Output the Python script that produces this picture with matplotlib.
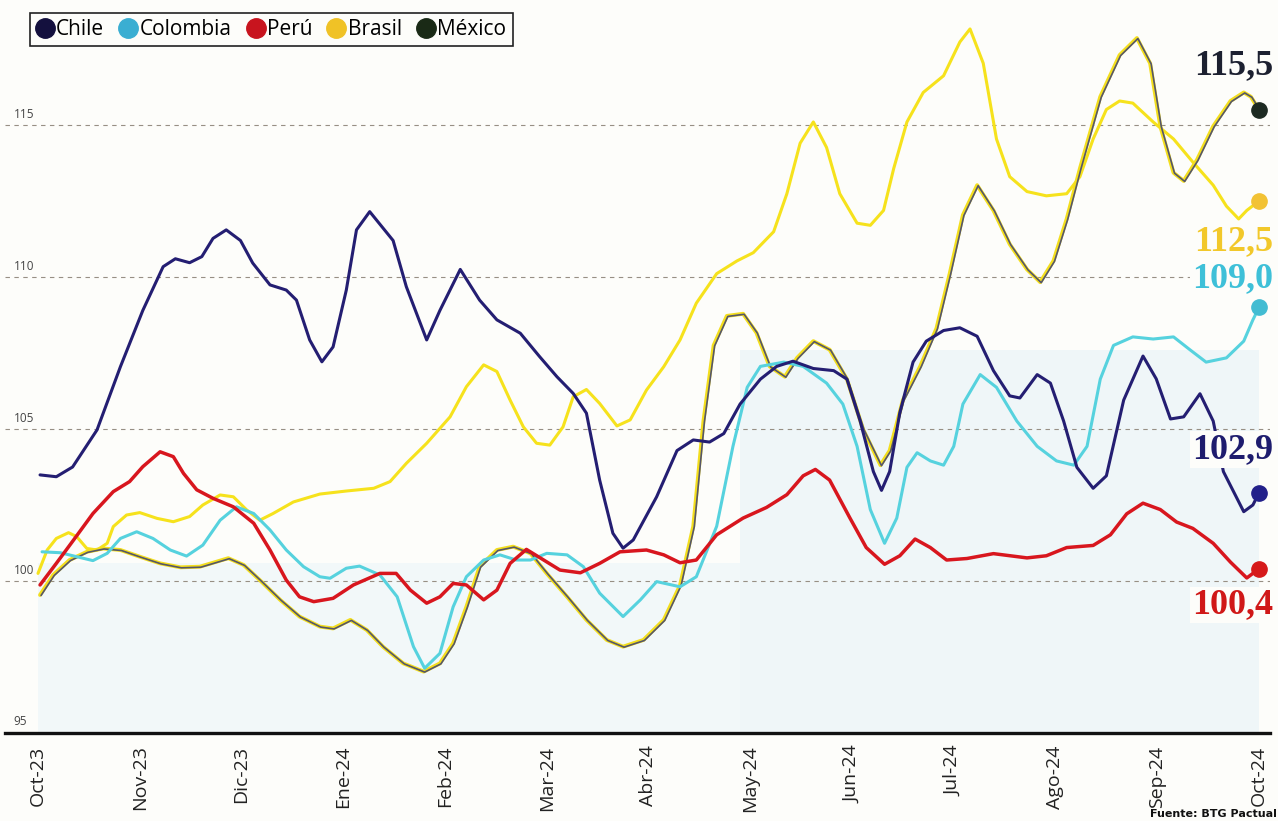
import matplotlib
matplotlib.use("Agg")
import matplotlib.pyplot as plt
import matplotlib.transforms as mtransforms
from matplotlib.lines import Line2D
from matplotlib.patches import Rectangle

# months since Oct-23 (x) and index value (y)
meses = ["Oct-23", "Nov-23", "Dic-23", "Ene-24", "Feb-24", "Mar-24", "Abr-24",
         "May-24", "Jun-24", "Jul-24", "Ago-24", "Sep-24", "Oct-24"]

chile_x = [0.02, 0.18, 0.34, 0.58, 0.81, 1.03, 1.23, 1.35, 1.49, 1.61, 1.72, 1.85,
           1.99, 2.11, 2.28, 2.44, 2.54, 2.67, 2.79, 2.90, 3.03, 3.13, 3.26, 3.49,
           3.62, 3.82, 3.95, 4.15, 4.34, 4.51, 4.74, 4.93, 5.10, 5.26, 5.39, 5.52,
           5.65, 5.75, 5.85, 6.08, 6.28, 6.44, 6.60, 6.74, 6.90, 7.10, 7.26, 7.42,
           7.62, 7.82, 7.95, 8.08, 8.21, 8.29, 8.37, 8.47, 8.60, 8.73, 8.90, 9.06,
           9.23, 9.39, 9.55, 9.65, 9.82, 9.95, 10.08, 10.21, 10.37, 10.50, 10.67,
           10.86, 10.99, 11.13, 11.26, 11.42, 11.55, 11.65, 11.85, 11.94, 12.0]
chile_y = [103.49, 103.43, 103.75, 104.97, 107.05, 108.9, 110.34, 110.6, 110.47,
           110.67, 111.27, 111.55, 111.2, 110.46, 109.74, 109.57, 109.24, 107.93,
           107.21, 107.7, 109.57, 111.55, 112.15, 111.2, 109.68, 107.93, 108.9,
           110.25, 109.24, 108.59, 108.15, 107.38, 106.72, 106.17, 105.52, 103.32,
           101.57, 101.08, 101.35, 102.77, 104.29, 104.64, 104.57, 104.85, 105.82,
           106.64, 107.06, 107.23, 106.99, 106.92, 106.64, 105.26, 103.6, 102.98,
           103.6, 105.54, 107.2, 107.89, 108.24, 108.33, 108.05, 106.92, 106.09,
           106.02, 106.79, 106.51, 105.26, 103.74, 103.05, 103.46, 105.95, 107.4,
           106.65, 105.33, 105.4, 106.16, 105.26, 103.6, 102.28, 102.5, 102.9]

colombia_x = [0.04, 0.22, 0.38, 0.54, 0.68, 0.81, 0.97, 1.13, 1.30, 1.46, 1.62,
              1.79, 1.95, 2.12, 2.28, 2.44, 2.61, 2.77, 2.87, 3.03, 3.16, 3.36,
              3.53, 3.69, 3.80, 3.95, 4.08, 4.21, 4.38, 4.54, 4.70, 4.84, 5.00,
              5.20, 5.36, 5.52, 5.75, 5.92, 6.08, 6.31, 6.47, 6.67, 6.83, 6.97,
              7.10, 7.33, 7.52, 7.75, 7.91, 8.05, 8.18, 8.32, 8.44, 8.54, 8.64,
              8.77, 8.90, 9.00, 9.09, 9.26, 9.42, 9.62, 9.82, 10.01, 10.18, 10.31,
              10.44, 10.57, 10.76, 10.96, 11.16, 11.32, 11.48, 11.68, 11.85, 11.94,
              12.0]
colombia_y = [100.96, 100.93, 100.8, 100.67, 100.91, 101.4, 101.62, 101.4, 101.02,
              100.82, 101.18, 102.0, 102.44, 102.22, 101.68, 101.02, 100.47, 100.14,
              100.09, 100.42, 100.49, 100.2, 99.48, 97.84, 97.13, 97.62, 99.15,
              100.14, 100.69, 100.86, 100.69, 100.69, 100.91, 100.86, 100.47, 99.6,
              98.83, 99.38, 99.98, 99.81, 100.14, 101.8, 104.43, 106.37, 107.06,
              107.2, 107.06, 106.51, 105.82, 104.43, 102.35, 101.24, 102.07, 103.74,
              104.22, 103.95, 103.81, 104.43, 105.82, 106.79, 106.37, 105.26, 104.43,
              103.95, 103.81, 104.43, 106.64, 107.75, 108.03, 107.96, 108.03, 107.61,
              107.2, 107.34, 107.89, 108.59, 109.0]

peru_x = [0.02, 0.18, 0.35, 0.54, 0.74, 0.90, 1.03, 1.20, 1.33, 1.43, 1.56, 1.72,
          1.92, 2.12, 2.28, 2.44, 2.57, 2.71, 2.90, 3.10, 3.36, 3.52, 3.66, 3.82,
          3.95, 4.08, 4.21, 4.38, 4.51, 4.64, 4.80, 4.97, 5.13, 5.33, 5.52, 5.72,
          5.98, 6.15, 6.31, 6.47, 6.67, 6.93, 7.16, 7.36, 7.52, 7.64, 7.78, 7.98,
          8.14, 8.32, 8.47, 8.62, 8.77, 8.93, 9.13, 9.39, 9.72, 9.91, 10.11, 10.37,
          10.54, 10.70, 10.86, 11.03, 11.19, 11.35, 11.55, 11.72, 11.88, 12.0]
peru_y = [99.87, 100.58, 101.35, 102.22, 102.94, 103.27, 103.76, 104.25, 104.09,
          103.54, 103.0, 102.72, 102.44, 101.9, 101.02, 100.03, 99.48, 99.32, 99.43,
          99.87, 100.25, 100.25, 99.7, 99.27, 99.48, 99.92, 99.87, 99.38, 99.7,
          100.58, 101.04, 100.69, 100.36, 100.27, 100.58, 100.96, 101.02, 100.86,
          100.6, 100.69, 101.52, 102.07, 102.42, 102.84, 103.46, 103.67, 103.32,
          102.07, 101.1, 100.55, 100.83, 101.38, 101.1, 100.69, 100.74, 100.9,
          100.76, 100.83, 101.1, 101.17, 101.52, 102.21, 102.56, 102.35, 101.94,
          101.73, 101.24, 100.62, 100.1, 100.4]

brasil_x = [0.0, 0.09, 0.18, 0.30, 0.38, 0.48, 0.58, 0.68, 0.74, 0.87, 1.00, 1.17,
            1.33, 1.49, 1.62, 1.79, 1.92, 2.05, 2.18, 2.31, 2.51, 2.77, 3.03, 3.30,
            3.46, 3.62, 3.82, 4.05, 4.21, 4.38, 4.51, 4.64, 4.77, 4.90, 5.03, 5.16,
            5.26, 5.39, 5.52, 5.69, 5.82, 5.98, 6.15, 6.31, 6.47, 6.67, 6.87, 7.03,
            7.23, 7.36, 7.49, 7.62, 7.75, 7.88, 8.05, 8.18, 8.31, 8.41, 8.54, 8.70,
            8.90, 9.06, 9.16, 9.29, 9.42, 9.55, 9.72, 9.91, 10.11, 10.24, 10.37,
            10.50, 10.63, 10.76, 10.96, 11.16, 11.35, 11.55, 11.68, 11.80, 11.88,
            12.0]
brasil_y = [100.25, 101.02, 101.4, 101.59, 101.46, 101.07, 101.02, 101.24, 101.79,
            102.17, 102.25, 102.06, 101.95, 102.12, 102.5, 102.83, 102.77, 102.34,
            102.0, 102.22, 102.6, 102.86, 102.96, 103.05, 103.27, 103.87, 104.53,
            105.4, 106.39, 107.11, 106.89, 105.95, 105.07, 104.53, 104.47, 105.07,
            106.06, 106.3, 105.84, 105.1, 105.3, 106.28, 107.05, 107.93, 109.14,
            110.11, 110.53, 110.8, 111.49, 112.74, 114.4, 115.1, 114.26, 112.74,
            111.77, 111.7, 112.19, 113.57, 115.1, 116.07, 116.62, 117.73, 118.16,
            117.03, 114.54, 113.3, 112.81, 112.67, 112.74, 113.3, 114.54, 115.51,
            115.79, 115.72, 115.1, 114.54, 113.78, 113.02, 112.33, 111.91, 112.19,
            112.5]

mexico_x = [0.02, 0.15, 0.31, 0.48, 0.64, 0.81, 1.00, 1.20, 1.40, 1.59, 1.76, 1.87,
            2.02, 2.18, 2.38, 2.57, 2.77, 2.90, 3.07, 3.23, 3.39, 3.59, 3.79, 3.95,
            4.08, 4.21, 4.34, 4.51, 4.67, 4.84, 5.00, 5.20, 5.39, 5.59, 5.75, 5.95,
            6.15, 6.31, 6.44, 6.54, 6.64, 6.77, 6.93, 7.06, 7.19, 7.34, 7.46, 7.62,
            7.78, 7.95, 8.11, 8.28, 8.37, 8.50, 8.67, 8.83, 8.96, 9.09, 9.23, 9.39,
            9.55, 9.72, 9.85, 9.98, 10.11, 10.24, 10.44, 10.63, 10.80, 10.93, 11.03,
            11.16, 11.26, 11.39, 11.55, 11.72, 11.85, 11.92, 12.0]
mexico_y = [99.54, 100.2, 100.69, 100.96, 101.07, 101.02, 100.8, 100.58, 100.45,
            100.47, 100.64, 100.75, 100.53, 100.03, 99.38, 98.83, 98.5, 98.44, 98.72,
            98.39, 97.84, 97.29, 97.02, 97.29, 97.95, 99.15, 100.47, 101.02, 101.13,
            100.91, 100.25, 99.48, 98.72, 98.06, 97.84, 98.06, 98.72, 99.86, 101.8,
            105.26, 107.75, 108.72, 108.79, 108.17, 107.06, 106.72, 107.34, 107.89,
            107.61, 106.64, 104.98, 103.81, 104.29, 105.95, 107.06, 108.31, 110.11,
            112.04, 113.02, 112.19, 111.08, 110.25, 109.83, 110.53, 111.91, 113.57,
            115.93, 117.3, 117.86, 117.03, 114.96, 113.43, 113.16, 113.85, 114.96,
            115.79, 116.07, 115.93, 115.5]

etiquetas = ["115,5", "112,5", "109,0", "102,9", "100,4"]

fondo = "#fdfdfa"
fig = plt.figure(figsize=(12.78, 8.21), dpi=100)
fig.patch.set_facecolor(fondo)

# axes: 5px..1270px wide, value 95 at y=733px, top of figure ~119.1
ax = fig.add_axes([5 / 1278, 88 / 821, 1265 / 1278, 733 / 821])
ax.set_facecolor("none")
ax.set_xlim((5 - 38) / 101.75, (1270 - 38) / 101.75)
ax.set_ylim(95, 95 + 733 / 30.4)

# faint blue tint from the printed page
ax.add_patch(Rectangle((0.0, 95), 6.9, 5.6, color="#f2f8f9", zorder=0, lw=0))
ax.add_patch(Rectangle((6.9, 95), 5.1, 12.6, color="#eff6f8", zorder=0, lw=0))

for v in [100, 105, 110, 115]:
    ax.axhline(v, color="#978f84", lw=0.8, ls=(0, (4, 4)), zorder=1)
    ax.text(0.007, v + 0.12, str(v), transform=ax.get_yaxis_transform(),
            fontsize=8.5, color="#444", family="Open Sans", va="bottom")
ax.text(0.007, 95.15, "95", transform=ax.get_yaxis_transform(),
        fontsize=8.5, color="#444", family="Open Sans", va="bottom")

lw = 2.2
kw = dict(solid_joinstyle="round", solid_capstyle="round")
ax.plot(brasil_x, brasil_y, color="#f6e21c", lw=lw, zorder=3, **kw)

shift = mtransforms.offset_copy(ax.transData, fig=fig, x=1, y=-0.5, units="dots")
ax.plot(mexico_x, mexico_y, color="#f3de1e", lw=2.8, zorder=4, **kw)
ax.plot(mexico_x, mexico_y, color="#55566a", lw=1.2, zorder=4, transform=shift, **kw)

ax.plot(colombia_x, colombia_y, color="#56d2de", lw=lw, zorder=5, **kw)
ax.plot(peru_x, peru_y, color="#d8161e", lw=lw + 0.3, zorder=6, **kw)
ax.plot(chile_x, chile_y, color="#241e72", lw=lw, zorder=7, **kw)

# end dots and value labels
finales = [(mexico_y[-1], "#1d2a22", "#1c2030", 32),
           (brasil_y[-1], "#f2c234", "#f2c82a", -29),
           (colombia_y[-1], "#42bcd2", "#3ec0d8", 21),
           (chile_y[-1], "#22208a", "#1e1c6e", 31),
           (peru_y[-1], "#d61a1a", "#d01818", -26)]
for (val, c_dot, c_txt, dy), lab in zip(finales, etiquetas):
    ax.plot(12, val, "o", ms=11, color=c_dot, zorder=9, clip_on=False)
    ax.annotate(lab, xy=(12, val), xytext=(10, dy), textcoords="offset points",
                ha="right", va="center", fontsize=26, fontweight="bold",
                family="Liberation Serif", color=c_txt, zorder=10,
                bbox=dict(boxstyle="square,pad=0.05", fc=fondo, ec="none"))

for s in ["top", "right", "left"]:
    ax.spines[s].set_visible(False)
ax.spines["bottom"].set_linewidth(2.4)
ax.spines["bottom"].set_color("#111")
ax.set_yticks([])
ax.set_xticks(range(13))
ax.set_xticklabels(meses, rotation=90, fontsize=14, family="Open Sans", color="#222")
ax.tick_params(axis="x", length=0, pad=9)

nombres = ["Chile", "Colombia", "Perú", "Brasil", "México"]
colores = ["#14103e", "#3aaed2", "#c8141e", "#f0c226", "#1a2a16"]
handles = [Line2D([], [], ls="none", marker="o", ms=14, color=c, label=n)
           for n, c in zip(nombres, colores)]
leg = fig.legend(handles=handles, loc="upper left", bbox_to_anchor=(30 / 1278, 1 - 13 / 821),
                 ncol=5, frameon=True, fancybox=False, edgecolor="#222", framealpha=1,
                 facecolor=fondo, prop={"family": "Open Sans", "size": 15},
                 handlelength=0.8, handletextpad=0.15, columnspacing=0.75,
                 borderpad=0.3, borderaxespad=0)
leg.get_frame().set_linewidth(1.2)

fig.text(0.999, 0.002, "Fuente: BTG Pactual", ha="right", va="bottom", fontsize=8,
         fontweight="bold", family="Liberation Sans Narrow", color="#111")

fig.savefig("out.png", dpi=100, facecolor=fig.get_facecolor())
